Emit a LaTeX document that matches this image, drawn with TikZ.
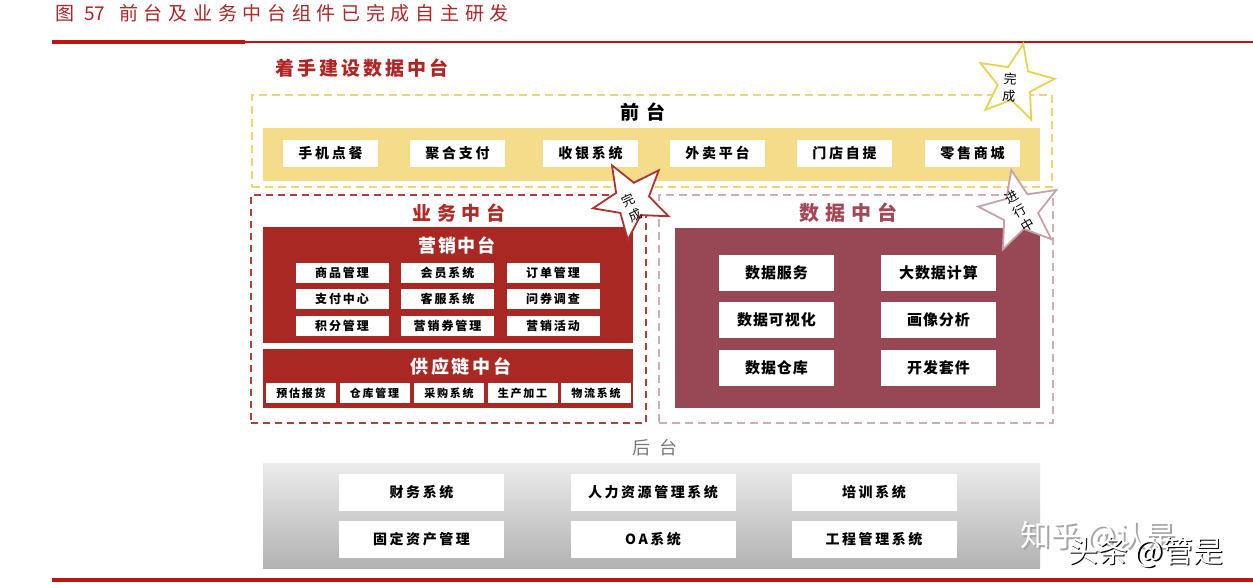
\documentclass[tikz,border=0pt]{standalone}
\usepackage{fontspec}
\setmainfont{Noto Sans CJK SC}
\usetikzlibrary{shapes.geometric}
\definecolor{titlered}{RGB}{178,36,36}
\definecolor{rulered}{RGB}{190,20,20}
\definecolor{ydash}{RGB}{240,212,110}
\definecolor{yband}{RGB}{245,220,138}
\definecolor{ystar}{RGB}{238,208,80}
\definecolor{rdash}{RGB}{185,60,60}
\definecolor{rbox}{RGB}{170,40,36}
\definecolor{rtext}{RGB}{180,40,40}
\definecolor{rstar}{RGB}{175,50,45}
\definecolor{pdash}{RGB}{212,172,182}
\definecolor{mbox}{RGB}{152,72,85}
\definecolor{mtext}{RGB}{165,70,85}
\definecolor{pstar}{RGB}{200,160,170}
\definecolor{gtext}{RGB}{120,120,120}
\definecolor{gtop}{RGB}{236,236,236}
\definecolor{gbot}{RGB}{178,178,178}
\newcommand\fsz[2]{\fontsize{#1}{#1}\selectfont\addfontfeature{LetterSpace=#2}}
\newcommand\fszb[2]{\fontsize{#1}{#1}\selectfont\bfseries\addfontfeature{LetterSpace=#2}}
\begin{document}
\begin{tikzpicture}[x=1pt,y=-1pt,
  area/.style={inner sep=0pt, anchor=center},
  frontbox/.style={fill=white, inner sep=0pt, minimum width=95pt, minimum height=27pt, font=\fszb{14}{20}},
  mktbox/.style={fill=white, inner sep=0pt, minimum width=93pt, minimum height=20pt, font=\fszb{12}{16}},
  supbox/.style={fill=white, inner sep=0pt, minimum width=70pt, minimum height=20pt, font=\fszb{11}{16}},
  databox/.style={fill=white, inner sep=0pt, minimum width=115pt, minimum height=36pt, font=\fszb{15}{6}},
  backbox/.style={fill=white, inner sep=0pt, minimum width=165pt, minimum height=37pt, font=\fszb{14}{18}},
  starshape/.style={star, star points=5, star point ratio=2.3, minimum size=#1, inner sep=0pt, fill=white, line width=1.8pt},
  startext/.style={font=\fsz{13}{0}, align=center, inner sep=0pt}
]
\useasboundingbox (0,0) rectangle (1253,584);

% title and rules
\node[anchor=west, text=titlered, inner sep=0pt] (title) at (55,13) {{\fsz{19}{0}图\hspace{10pt}57\hspace{14pt}}{\fsz{19}{30}前台及业务中台组件已完成自主研发}};
\coordinate (r1a) at (52,42); \coordinate (r1b) at (245,42); \coordinate (r1c) at (1253,42);
\draw[rulered, line width=4pt] (r1a) -- (r1b);
\draw[rulered, line width=2.5pt] (r1b) -- (r1c);
\coordinate (r2a) at (52,580); \coordinate (r2b) at (1253,580);
\draw[rulered, line width=4pt] (r2a) -- (r2b);

\node[anchor=west, text=titlered, font=\fszb{19}{16}, inner sep=0pt] (build) at (275,68) {着手建设数据中台};

% front
\node[area, draw=ydash, dash pattern=on 8pt off 5pt, line width=2pt, minimum width=800pt, minimum height=92pt] (frontdash) at (652,141) {};
\node[font=\fszb{19}{40}] (front) at (643,112) {前台};
\node[area, fill=yband, minimum width=777pt, minimum height=53pt] (band) at (651.5,154.5) {};
\node[frontbox] (f1) at (330.5,153.5) {手机点餐};
\node[frontbox] (f2) at (457.5,153.5) {聚合支付};
\node[frontbox] (f3) at (590.5,153.5) {收银系统};
\node[frontbox] (f4) at (717.5,153.5) {外卖平台};
\node[frontbox] (f5) at (844.5,153.5) {门店自提};
\node[frontbox] (f6) at (972.5,153.5) {零售商城};

% business middle
\node[area, draw=rdash, dash pattern=on 7pt off 5pt, line width=1.8pt, minimum width=395pt, minimum height=228pt] (bizdash) at (448.5,309) {};
\node[text=rtext, font=\fszb{19}{30}] (biz) at (459,213) {业务中台};
\node[area, fill=rbox, minimum width=370pt, minimum height=116pt] (mkt) at (448,285) {};
\node[text=white, font=\fszb{18}{8}] (mkttitle) at (457,245) {营销中台};
\node[mktbox] (m11) at (342,272.5) {商品管理};
\node[mktbox] (m12) at (447.5,272.5) {会员系统};
\node[mktbox] (m13) at (553,272.5) {订单管理};
\node[mktbox] (m21) at (342,298.5) {支付中心};
\node[mktbox] (m22) at (447.5,298.5) {客服系统};
\node[mktbox] (m23) at (553,298.5) {问券调查};
\node[mktbox] (m31) at (342,326) {积分管理};
\node[mktbox] (m32) at (447.5,326) {营销券管理};
\node[mktbox] (m33) at (553,326) {营销活动};
\node[area, fill=rbox, minimum width=370pt, minimum height=59pt] (sup) at (448,378.5) {};
\node[text=white, font=\fszb{18}{14}] (suptitle) at (461,367) {供应链中台};
\node[supbox] (s1) at (301,393) {预估报货};
\node[supbox] (s2) at (374.5,393) {仓库管理};
\node[supbox] (s3) at (449,393) {采购系统};
\node[supbox] (s4) at (522.5,393) {生产加工};
\node[supbox] (s5) at (596,393) {物流系统};

% data middle
\node[area, draw=pdash, dash pattern=on 8pt off 5pt, line width=1.5pt, minimum width=394pt, minimum height=228pt] (datadash) at (856,309) {};
\node[text=mtext, font=\fszb{20}{30}] (data) at (848,213) {数据中台};
\node[area, fill=mbox, minimum width=365pt, minimum height=180pt] (dbox) at (857.5,318) {};
\node[databox] (d11) at (776.5,273) {数据服务};
\node[databox] (d12) at (938.5,273) {大数据计算};
\node[databox] (d21) at (776.5,320) {数据可视化};
\node[databox] (d22) at (938.5,320) {画像分析};
\node[databox] (d31) at (776.5,367.5) {数据仓库};
\node[databox] (d32) at (938.5,367.5) {开发套件};

% back
\node[text=gtext, font=\fsz{18}{55}] (back) at (655,448) {后台};
\node[area, top color=gtop, bottom color=gbot, minimum width=777pt, minimum height=105pt] (gbox) at (651.5,515.5) {};
\node[backbox] (b11) at (421.5,492) {财务系统};
\node[backbox] (b12) at (653,492) {人力资源管理系统};
\node[backbox] (b13) at (874,492) {培训系统};
\node[backbox] (b21) at (421.5,539.5) {固定资产管理};
\node[backbox] (b22) at (653,539.5) {OA系统};
\node[backbox] (b23) at (874,539.5) {工程管理系统};

% stars
\node[starshape=80pt, draw=ystar, rotate=-12] (star1) at (1015,83) {};
\node[startext, rotate=-4] (star1t) at (1009.5,87.5) {完\\[4pt]成};
\node[starshape=80pt, draw=rstar, rotate=30] (star2) at (632,200) {};
\node[startext, rotate=25] (star2t) at (631.5,207.5) {完\\[4pt]成};
\node[starshape=84pt, draw=pstar, rotate=12] (star3) at (1020,211) {};
\node[startext, rotate=30] (star3t) at (1020,211) {进\\[3pt]行\\[3pt]中};

% watermarks
\node[anchor=west, text=gray!70, font=\fsz{30}{0}, inner sep=0pt] (wm1s) at (1022.5,538.5) {知乎 @认是};
\node[anchor=west, text=white, font=\fsz{30}{0}, inner sep=0pt] (wm1) at (1020,536) {知乎 @认是};
\node[anchor=west, text=black, font=\fsz{30}{0}, inner sep=0pt] (wm2s) at (1069.5,553.5) {头条 @管是};
\node[anchor=west, text=white, font=\fsz{30}{0}, inner sep=0pt] (wm2) at (1068,552) {头条 @管是};
\end{tikzpicture}
\end{document}
